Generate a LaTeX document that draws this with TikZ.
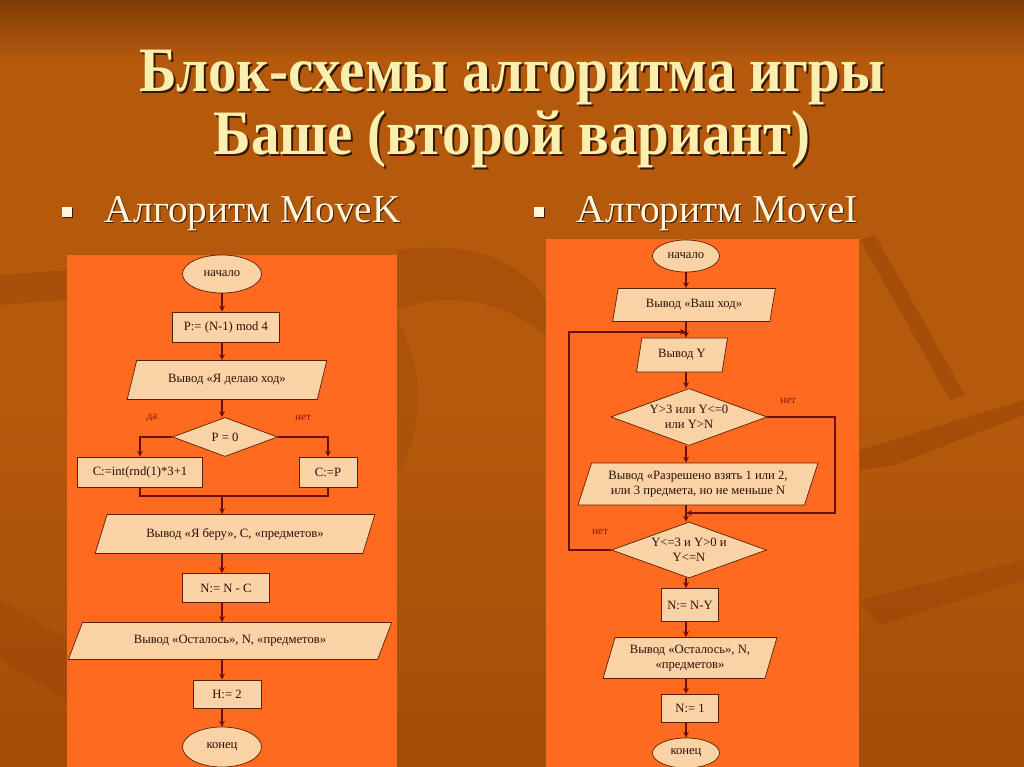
\documentclass[tikz,border=0pt]{standalone}
\usepackage{fontspec}
\setmainfont{Liberation Serif}
\usetikzlibrary{shapes.geometric}
\definecolor{bgtop}{HTML}{7E3C06}
\definecolor{bgmid}{HTML}{B55A0C}
\definecolor{bgbot}{HTML}{A44C08}
\definecolor{leaf}{HTML}{8A3A04}
\definecolor{panel}{HTML}{FE6A1F}
\definecolor{boxfill}{HTML}{F9D3A6}
\definecolor{boxline}{HTML}{5A2000}
\definecolor{boxtext}{HTML}{2A1005}
\definecolor{linecol}{HTML}{6E1008}
\definecolor{lblcol}{HTML}{8B1A0A}
\definecolor{titlecol}{HTML}{FBEFB0}
\definecolor{cream}{HTML}{FFF6DC}
\definecolor{shadowcol}{HTML}{3A1800}
\tikzset{
  blk/.style={draw=boxline, fill=boxfill, line width=0.5pt, text=boxtext,
    font=\fontsize{9}{10.5}\selectfont, inner sep=1pt, align=center},
  box/.style={blk, rectangle},
  term/.style={blk, ellipse},
  cond/.style={blk, diamond},
  io/.style={blk, trapezium, trapezium left angle=#1, trapezium right angle=180-#1,
    trapezium stretches=true},
  link/.style={draw=linecol, line width=0.9pt},
  lbl/.style={text=lblcol, font=\fontsize{8}{9}\selectfont},
  headline/.style={anchor=base, align=center, inner sep=0pt,
    font=\fontsize{45}{45.5}\bfseries}
}
\begin{document}
\begin{tikzpicture}[x=0.025cm, y=-0.025cm, >=stealth]
\useasboundingbox (0,0) rectangle (1024,767);
\clip (0,0) rectangle (1024,767);
% background
\fill[bgmid] (0,0) rectangle (1024,767);
\shade[top color=bgtop, bottom color=bgmid] (0,0) rectangle (1024,60);
\shade[top color=bgmid, bottom color=bgbot] (0,400) rectangle (1024,767);
\fill[leaf, opacity=0.35] (860,240) -- (875,235) -- (965,395) -- (950,400) -- cycle;
\fill[leaf, opacity=0.35] (860,450) -- (1024,400) -- (1024,415) -- (895,465) -- (860,470) -- cycle;
\fill[leaf, opacity=0.3] (0,275) -- (67,270) -- (67,300) -- (0,305) -- cycle;
\fill[leaf, opacity=0.25] (397,250) .. controls (470,240) and (520,260) .. (546,300) -- (546,335) .. controls (500,300) and (450,290) .. (397,310) -- cycle;
\fill[leaf, opacity=0.2] (397,320) .. controls (430,380) and (420,430) .. (400,470) -- (397,470) -- cycle;
\fill[leaf, opacity=0.25] (860,600) -- (1024,560) -- (1024,580) -- (880,625) -- cycle;
\fill[leaf, opacity=0.2] (0,600) -- (67,640) -- (67,700) -- (0,660) -- cycle;

% title
\node[headline, text=shadowcol] (titleshadow) at (514,157) {\scalebox{0.9}[1]{Блок-схемы алгоритма игры}\\\scalebox{0.9}[1]{Баше (второй вариант)}};
\node[headline, text=titlecol] (title) at (512,155) {\scalebox{0.9}[1]{Блок-схемы алгоритма игры}\\\scalebox{0.9}[1]{Баше (второй вариант)}};
% bullets
\foreach \bx/\t in {67/{Алгоритм MoveK}, 539/{Алгоритм MoveI}}{
  \fill[shadowcol] (\bx-4,208) rectangle (\bx+6,218);
  \fill[cream] (\bx-5,207) rectangle (\bx+5,217);
  \node[anchor=base west, text=shadowcol, font=\fontsize{28}{30}\selectfont] at (\bx+34,224) {\t};
  \node[anchor=base west, text=cream, font=\fontsize{28}{30}\selectfont] at (\bx+33,223) {\t};
}

% panels
\fill[panel] (67,255) rectangle (397,767);
\fill[panel] (546,239) rectangle (859,767);

% MoveK
\coordinate (axL) at (222,0);
\node[term, minimum width=1.975cm, minimum height=0.95cm] (n1) at (222,274) {начало};
\node[box, minimum width=2.675cm, minimum height=0.75cm] (p1) at (226,327) {P:= (N-1) mod 4};
\node[io=65, minimum width=5.025cm, minimum height=0.975cm] (out1) at (227,380) {Вывод «Я делаю ход»};
\node[cond, aspect=2.7, minimum width=2.625cm, minimum height=0.975cm] (d1) at (225,437) {P = 0};
\node[box, minimum width=3.125cm, minimum height=0.75cm] (c1) at (140,472) {C:=int(rnd(1)*3+1};
\node[box, minimum width=1.45cm, minimum height=0.75cm] (c2) at (328,472) {C:=P};
\node[io=60, minimum width=7cm, minimum height=0.975cm] (out2) at (235,534) {Вывод «Я беру», С, «предметов»};
\node[box, minimum width=2.175cm, minimum height=0.725cm] (r2) at (226,588) {N:= N - C};
\node[io=56, minimum width=8.1cm, minimum height=0.925cm] (out3) at (230,641) {Вывод «Осталось», N, «предметов»};
\node[box, minimum width=1.7cm, minimum height=0.7cm] (r3) at (227,694) {H:= 2};
\node[term, minimum width=1.975cm, minimum height=1cm] (e1) at (222,747) {конец};
\node[lbl] (yes1) at (152,418) {да};
\node[lbl] (no1) at (303,418) {нет};
\coordinate (j1) at (222,496);

\draw[link, ->] (n1) -- (axL |- p1.north);
\draw[link, ->] (axL |- p1.south) -- (axL |- out1.north);
\draw[link, ->] (axL |- out1.south) -- (axL |- d1.north);
\draw[link, ->] (d1.west) -| (c1.north);
\draw[link, ->] (d1.east) -| (c2.north);
\draw[link] (c1.south) |- (j1) -| (c2.south);
\draw[link, ->] (j1) -- (axL |- out2.north);
\draw[link, ->] (axL |- out2.south) -- (axL |- r2.north);
\draw[link, ->] (axL |- r2.south) -- (axL |- out3.north);
\draw[link, ->] (axL |- out3.south) -- (axL |- r3.north);
\draw[link, ->] (axL |- r3.south) -- (e1);

% MoveI
\coordinate (axR) at (686,0);
\coordinate (loopL) at (569,0);
\coordinate (loopR) at (835,0);
\node[term, minimum width=1.675cm, minimum height=0.8cm] (s2) at (686,256) {начало};
\node[io=75, minimum width=4.075cm, minimum height=0.825cm] (o1) at (694,305) {Вывод «Ваш ход»};
\node[io=76, minimum width=2.275cm, minimum height=0.85cm] (o2) at (682,355) {Вывод Y};
\node[cond, aspect=2.75, minimum width=3.9cm, minimum height=1.425cm] (q1) at (689,417) {Y>3 или Y<=0\\или Y>N};
\node[io=68, minimum width=6cm, minimum height=1.05cm] (o3) at (698,484) {Вывод «Разрешено взять 1 или 2,\\или 3 предмета, но не меньше N};
\node[cond, aspect=2.75, minimum width=3.875cm, minimum height=1.4cm] (q2) at (689,550) {Y<=3 и Y>0 и\\Y<=N};
\node[box, minimum width=1.425cm, minimum height=0.825cm] (r4) at (690,605) {N:= N-Y};
\node[io=71, minimum width=4.35cm, minimum height=1.025cm] (o4) at (690,658) {Вывод «Осталось», N,\\«предметов»};
\node[box, minimum width=1.425cm, minimum height=0.7cm] (r5) at (690,708) {N:= 1};
\node[term, minimum width=1.675cm, minimum height=0.75cm] (e2) at (686,753) {конец};
\node[lbl] (no2) at (788,401) {нет};
\node[lbl] (no3) at (600,532) {нет};
\coordinate (j2) at (686,332);
\coordinate (j3) at (686,513);

\draw[link, ->] (s2) -- (axR |- o1.north);
\draw[link] (axR |- o1.south) -- (j2);
\draw[link, ->] (j2) -- (axR |- o2.north);
\draw[link, ->] (axR |- o2.south) -- (axR |- q1.north);
\draw[link, ->] (axR |- q1.south) -- (axR |- o3.north);
\draw[link, ->] (q1.east) -- (q1.east -| loopR) |- (j3);
\draw[link] (axR |- o3.south) -- (j3);
\draw[link, ->] (j3) -- (axR |- q2.north);
\draw[link, ->] (q2.west) -- (q2.west -| loopL) |- (j2);
\draw[link, ->] (axR |- q2.south) -- (axR |- r4.north);
\draw[link, ->] (axR |- r4.south) -- (axR |- o4.north);
\draw[link, ->] (axR |- o4.south) -- (axR |- r5.north);
\draw[link, ->] (axR |- r5.south) -- (e2);
\end{tikzpicture}
\end{document}
